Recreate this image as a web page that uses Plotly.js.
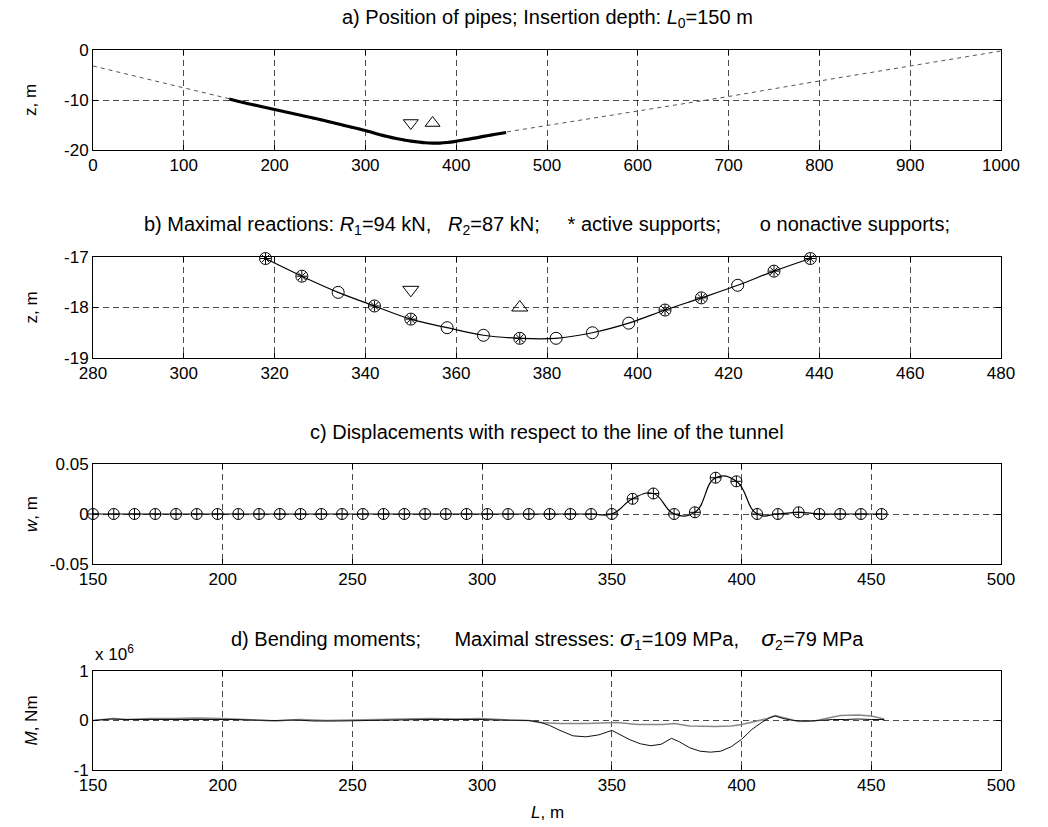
<!DOCTYPE html>
<html>
<head>
<meta charset="utf-8">
<script src="https://cdn.plot.ly/plotly-3.0.1.min.js"></script>
<style>body{margin:0;background:#fff}#chart{width:1048px;height:827px}</style>
</head>
<body>
<div id="chart"></div>
<script>
// ---------- Panel a: position of pipes ----------
const tunnelX = [0,150,200,250,300,340,360,380,400,420,455,500,600,700,800,900,1000];
const tunnelZ = [-3.2,-9.8,-12,-14.2,-16.3,-18,-18.5,-18.6,-18.3,-17.6,-16.4,-15.1,-12.2,-9.3,-6.2,-3.2,-0.2];
const pipeX = [150,175,200,225,250,275,300,318,326,334,342,350,358,366,374,382,390,398,406,414,422,430,438,445,455];
const pipeZ = [-9.8,-10.9,-11.9,-12.9,-13.9,-15.0,-16.1,-17.03,-17.38,-17.7,-17.97,-18.23,-18.4,-18.55,-18.61,-18.61,-18.5,-18.31,-18.05,-17.81,-17.56,-17.28,-17.03,-16.8,-16.5];
const triAX = [350, 374];
const triAZ = [-14.6, -14.6];

// ---------- Panel b: supports ----------
const supX = [318,326,334,342,350,358,366,374,382,390,398,406,414,422,430,438];
const supZ = [-17.03,-17.38,-17.7,-17.97,-18.23,-18.4,-18.55,-18.61,-18.61,-18.5,-18.31,-18.05,-17.81,-17.56,-17.28,-17.03];
const activeX = [318,326,342,350,374,406,414,430,438];
const activeZ = [-17.03,-17.38,-17.97,-18.23,-18.61,-18.05,-17.81,-17.28,-17.03];
const triBX = [350, 374];
const triBZ = [-17.65, -18.0];

// ---------- Panel c: displacements ----------
const dispX = [150,158,166,174,182,190,198,206,214,222,230,238,246,254,262,270,278,286,294,302,310,318,326,334,342,350,358,366,374,382,390,398,406,414,422,430,438,446,454];
const dispW = [0,0,0,0,0,0,0,0,0,0,0,0,0,0,0,0,0,0,0,0,0,0,0,0,0,0,0.0152,0.0205,0,0.0017,0.0363,0.0327,0,0,0.0017,0,0,0,0];

// ---------- Panel d: bending moments (x 10^6 Nm) ----------
const m1X = [150,153,157,162,168,172,177,181,186,190,195,200,205,210,215,220,228,235,245,255,262,268,272,278,285,290,295,300,305,310,315,318,322,326,330,335,340,345,350,353,357,361,365,369,373,376,380,384,388,392,396,400,404,408,411,413,416,420,425,430,435,440,445,450,455];
const m1Y = [0,0.01,0.03,0.02,0.02,0.03,0.02,0.03,0.02,0.03,0.02,0.03,0.02,0.01,0,0,0.01,-0.01,-0.01,0,0.01,0.02,0.01,0.02,0.02,0.02,0.03,0.02,0.01,0.01,0.01,0,-0.03,-0.1,-0.2,-0.31,-0.33,-0.29,-0.2,-0.28,-0.39,-0.47,-0.51,-0.48,-0.36,-0.43,-0.55,-0.62,-0.64,-0.62,-0.53,-0.38,-0.18,-0.03,0.06,0.09,0.04,0,-0.01,0,0.02,0.02,0.03,0.02,0.02];
const m2X = [150,155,158,163,172,181,190,200,210,220,230,240,250,260,270,280,290,300,310,318,322,330,340,348,352,360,370,374,380,390,396,400,405,410,413,417,422,428,433,438,445,450,455];
const m2Y = [0,0.02,0.04,0.02,0.04,0.04,0.05,0.04,0.02,-0.01,0.02,0,0.01,0.02,0.03,0.04,0.03,0.04,0.01,0,-0.04,-0.06,-0.06,-0.05,-0.04,-0.08,-0.08,-0.06,-0.11,-0.12,-0.11,-0.08,-0.02,0.04,0.1,0.05,-0.02,-0.01,0.05,0.1,0.11,0.09,0.03];

// ---------- tick labels ----------
const aXticks = [0,100,200,300,400,500,600,700,800,900,1000];
const aYticks = [-20,-10,0];
const aYlabels = ['-20','-10','0'];
const bXticks = [280,300,320,340,360,380,400,420,440,460,480];
const bYticks = [-19,-18,-17];
const bYlabels = ['-19','-18','-17'];
const cXticks = [150,200,250,300,350,400,450,500];
const cYticks = [-0.05,0,0.05];
const cYlabels = ['-0.05','0','0.05'];
const dYticks = [-1,0,1];
const dYlabels = ['-1','0','1'];

const FONT = 'Liberation Sans, Arial, Helvetica, sans-serif';
const TICK = 17, TXT = 20;

const traces = [
  {x: tunnelX, y: tunnelZ, xaxis:'x', yaxis:'y', mode:'lines', line:{color:'#555', width:1, dash:'4px,4px'}},
  {x: pipeX, y: pipeZ, xaxis:'x', yaxis:'y', mode:'lines', line:{color:'#000', width:3.2, shape:'spline', smoothing:0.8}},
  {x: triAX, y: triAZ, xaxis:'x', yaxis:'y', mode:'markers', cliponaxis:false,
   marker:{symbol:['triangle-down-open','triangle-up-open'], size:13, color:'#000', line:{width:1, color:'#000'}}},

  {x: supX, y: supZ, xaxis:'x2', yaxis:'y2', mode:'lines+markers', cliponaxis:false, line:{color:'#000', width:1.2, shape:'spline'},
   marker:{symbol:'circle-open', size:12, color:'#000', line:{width:1, color:'#000'}}},
  {x: activeX, y: activeZ, xaxis:'x2', yaxis:'y2', mode:'markers', cliponaxis:false,
   marker:{symbol:'asterisk-open', size:9, color:'#000', line:{width:1, color:'#000'}}},
  {x: triBX, y: triBZ, xaxis:'x2', yaxis:'y2', mode:'markers', cliponaxis:false,
   marker:{symbol:['triangle-down-open','triangle-up-open'], size:14, color:'#000', line:{width:1, color:'#000'}}},

  {x: dispX, y: dispW, xaxis:'x3', yaxis:'y3', mode:'lines+markers', cliponaxis:false, line:{color:'#000', width:1.2, shape:'spline', smoothing:1.3},
   marker:{symbol:'circle-cross-open', size:11, color:'#000', line:{width:1, color:'#000'}}},

  {x: m2X, y: m2Y, xaxis:'x4', yaxis:'y4', mode:'lines', line:{color:'#888', width:1.6}},
  {x: m1X, y: m1Y, xaxis:'x4', yaxis:'y4', mode:'lines', line:{color:'#111', width:1}}
];

function xax(range, ticks, anchor) {
  return {range: range, tickvals: ticks, anchor: anchor, showline:true, linecolor:'#000', linewidth:1, mirror:'ticks',
    ticks:'inside', ticklen:5, tickcolor:'#000', showgrid:true, gridcolor:'#000', gridwidth:0.7, griddash:'6px,4px',
    zeroline:false, tickfont:{family:FONT, size:TICK, color:'#000'}};
}
function yax(range, ticks, labels, domain, anchor) {
  return {range: range, tickvals: ticks, ticktext: labels, domain: domain, anchor: anchor, showline:true, linecolor:'#000',
    linewidth:1, mirror:'ticks', ticks:'inside', ticklen:5, tickcolor:'#000', showgrid:true, gridcolor:'#000',
    gridwidth:0.7, griddash:'6px,4px', zeroline:false, tickfont:{family:FONT, size:TICK, color:'#000'}};
}

const H = 720;
const dom = (top, bot) => [1 - (bot - 50) / H, 1 - (top - 50) / H];

function title(text, ax, shift) {
  return {text: text, xref: 'x' + ax + ' domain', yref: 'y' + ax + ' domain', x: 0.5, y: 1, yshift: shift,
    xanchor:'center', yanchor:'middle', showarrow:false, font:{family:FONT, size:TXT, color:'#000'}};
}
function ylab(text, ax) {
  return {text: text, xref:'paper', yref:'y' + ax + ' domain', x:0, xshift:-62, y:0.5, textangle:-90,
    xanchor:'center', yanchor:'middle', showarrow:false, font:{family:FONT, size:TICK, color:'#000'}};
}

const layout = {
  width:1048, height:827, margin:{l:93, r:47, t:50, b:57}, showlegend:false,
  paper_bgcolor:'#fff', plot_bgcolor:'#fff', font:{family:FONT, size:TICK, color:'#000'},
  xaxis: xax([0,1000], aXticks, 'y'),
  yaxis: yax([-20,0], aYticks, aYlabels, dom(50,150), 'x'),
  xaxis2: xax([280,480], bXticks, 'y2'),
  yaxis2: yax([-19,-17], bYticks, bYlabels, dom(257,358), 'x2'),
  xaxis3: xax([150,500], cXticks, 'y3'),
  yaxis3: yax([-0.05,0.05], cYticks, cYlabels, dom(464,564), 'x3'),
  xaxis4: xax([150,500], cXticks, 'y4'),
  yaxis4: yax([-1,1], dYticks, dYlabels, dom(671,770), 'x4'),
  annotations: [
    title('a) Position of pipes; Insertion depth: <i>L</i><sub>0</sub>=150 m', '', 32),
    title('b) Maximal reactions: <i>R</i><sub>1</sub>=94 kN,&nbsp;&nbsp; <i>R</i><sub>2</sub>=87 kN;&nbsp;&nbsp;&nbsp;&nbsp; * active supports;&nbsp;&nbsp;&nbsp;&nbsp;&nbsp;&nbsp; o nonactive supports;', '2', 32),
    title('c) Displacements with respect to the line of the tunnel', '3', 32),
    title('d) Bending moments;&nbsp;&nbsp;&nbsp;&nbsp;&nbsp; Maximal stresses: <i><span style="font-size:23px">σ</span></i><sub>1</sub>=109 MPa,&nbsp;&nbsp;&nbsp; <i><span style="font-size:23px">σ</span></i><sub>2</sub>=79 MPa', '4', 32),
    ylab('z, m', ''),
    ylab('z, m', '2'),
    ylab('<i>w</i>, m', '3'),
    ylab('<i>M</i>, Nm', '4'),
    {text:'x 10<sup>6</sup>', xref:'x4 domain', yref:'y4 domain', x:0, y:1, yshift:18, xanchor:'left', yanchor:'middle',
     showarrow:false, font:{family:FONT, size:TICK, color:'#000'}},
    {text:'<i>L</i>, m', xref:'x4 domain', yref:'y4 domain', x:0.5, y:0, yshift:-42, xanchor:'center', yanchor:'middle',
     showarrow:false, font:{family:FONT, size:TICK, color:'#000'}}
  ]
};

Plotly.newPlot('chart', traces, layout, {staticPlot:true, displayModeBar:false});
</script>
</body>
</html>
